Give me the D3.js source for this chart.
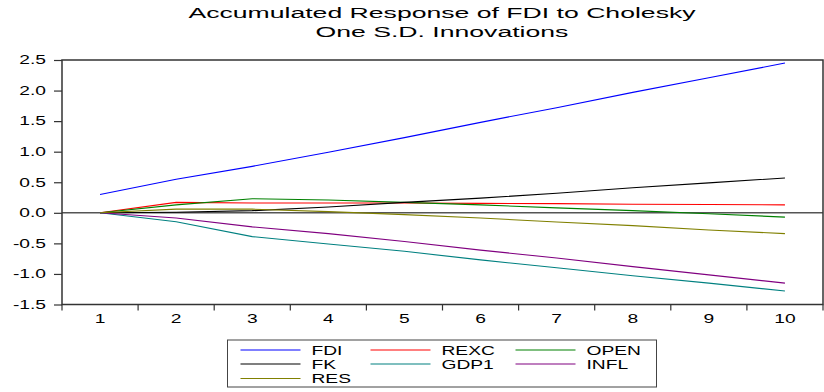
<!DOCTYPE html>
<html>
<head>
<meta charset="utf-8">
<script src="https://cdn.jsdelivr.net/npm/d3@7"></script>
<style>
  html, body { margin: 0; padding: 0; background: #fff; }
  svg { display: block; font-family: "Liberation Sans", Arial, sans-serif; }
</style>
</head>
<body>
<svg id="chart" width="824" height="392"></svg>
<script>
// Periods after the shock
const periods = [1, 2, 3, 4, 5, 6, 7, 8, 9, 10];

// Accumulated responses of FDI, one series per Cholesky shock
const fdi  = [0.30, 0.55, 0.76, 0.99, 1.23, 1.48, 1.72, 1.97, 2.21, 2.45];
const rexc = [0.00, 0.17, 0.16, 0.16, 0.16, 0.155, 0.15, 0.14, 0.135, 0.13];
const open = [0.00, 0.13, 0.23, 0.21, 0.17, 0.13, 0.08, 0.035, -0.015, -0.07];
const fk   = [0.00, 0.01, 0.035, 0.095, 0.17, 0.24, 0.32, 0.41, 0.49, 0.57];
const gdp1 = [0.00, -0.145, -0.39, -0.51, -0.63, -0.77, -0.90, -1.03, -1.15, -1.28];
const infl = [0.00, -0.085, -0.23, -0.34, -0.47, -0.61, -0.74, -0.88, -1.015, -1.15];
const res  = [0.00, 0.06, 0.06, 0.02, -0.03, -0.085, -0.15, -0.21, -0.28, -0.34];

const seriesNames = ["FDI", "REXC", "OPEN", "FK", "GDP1", "INFL", "RES"];
const seriesValues = [fdi, rexc, open, fk, gdp1, infl, res];
const seriesColors = ["#0000ff", "#ff0000", "#008000", "#000000", "#008080", "#800080", "#808000"];

const yTicks = [-1.5, -1.0, -0.5, 0.0, 0.5, 1.0, 1.5, 2.0, 2.5];
const titleLines = ["Accumulated Response of FDI to Cholesky", "One S.D. Innovations"];

const svg = d3.select("#chart");
const plot = { left: 62, top: 60, right: 823, bottom: 304.5 };

const x = d3.scaleBand().domain(periods).range([plot.left, plot.right]).padding(0);
const y = d3.scaleLinear().domain([-1.5, 2.5]).range([plot.bottom, plot.top]);

// Widen glyphs horizontally by a factor, keeping the anchor
function stretch(sel, factor) {
  sel.each(function () {
    const w = this.getComputedTextLength();
    d3.select(this).attr("textLength", w * factor).attr("lengthAdjust", "spacingAndGlyphs");
  });
}

// Title
svg.selectAll("text.title")
  .data(titleLines)
  .join("text")
  .attr("class", "title")
  .attr("x", 442)
  .attr("y", (d, i) => 18 + i * 18.5)
  .attr("text-anchor", "middle")
  .attr("font-size", 14)
  .attr("fill", "#000")
  .text(d => d)
  .call(stretch, 1.9);

// Zero reference line
svg.append("line")
  .attr("x1", plot.left).attr("x2", plot.right)
  .attr("y1", y(0)).attr("y2", y(0))
  .attr("stroke", "#555").attr("stroke-width", 1.5);

// Response lines
const line = d3.line()
  .x((d, i) => x(periods[i]) + x.bandwidth() / 2)
  .y(d => y(d));

svg.selectAll("path.resp")
  .data(seriesValues)
  .join("path")
  .attr("class", "resp")
  .attr("d", d => line(d))
  .attr("fill", "none")
  .attr("stroke", (d, i) => seriesColors[i])
  .attr("stroke-width", 1.1);

// Frame
svg.append("rect")
  .attr("x", plot.left).attr("y", plot.top)
  .attr("width", plot.right - plot.left).attr("height", plot.bottom - plot.top)
  .attr("fill", "none").attr("stroke", "#333").attr("stroke-width", 1.5);

// Y axis
const yAxis = d3.axisLeft(y).tickValues(yTicks).tickFormat(d3.format(".1f")).tickSize(8).tickPadding(8);
const gy = svg.append("g").attr("transform", `translate(${plot.left},0)`).call(yAxis);
gy.select(".domain").remove();
gy.selectAll(".tick line").attr("stroke", "#333").attr("stroke-width", 1.2);
gy.selectAll(".tick text")
  .attr("font-family", "Liberation Sans, Arial, sans-serif")
  .attr("font-size", 12).attr("fill", "#000")
  .text(d => d3.format(".1f")(d).replace("−", "-"))
  .call(stretch, 1.6);

// X axis: ticks on period boundaries, labels centred in each period
const gx = svg.append("g").attr("transform", `translate(0,${plot.bottom})`);
const bounds = periods.map(p => x(p)).concat([plot.right]);
gx.selectAll("line.xt")
  .data(bounds)
  .join("line")
  .attr("class", "xt")
  .attr("x1", d => d).attr("x2", d => d)
  .attr("y1", 0).attr("y2", 6)
  .attr("stroke", "#333").attr("stroke-width", 1.2);
gx.selectAll("text.xl")
  .data(periods)
  .join("text")
  .attr("class", "xl")
  .attr("x", d => x(d) + x.bandwidth() / 2)
  .attr("y", 18)
  .attr("text-anchor", "middle")
  .attr("font-size", 12)
  .attr("fill", "#000")
  .text(d => d)
  .call(stretch, 1.6);

// Legend
const legend = svg.append("g");
legend.append("rect")
  .attr("x", 227.5).attr("y", 340)
  .attr("width", 429).attr("height", 47)
  .attr("fill", "#fff").attr("stroke", "#444").attr("stroke-width", 1);

const colX = [240.5, 370.5, 515.5];
const rowY = [350, 364, 378.5];
const items = seriesNames.map((name, i) => ({ name, color: seriesColors[i], col: i % 3, row: Math.floor(i / 3) }));

const li = legend.selectAll("g.item").data(items).join("g").attr("class", "item");
li.append("line")
  .attr("x1", d => colX[d.col]).attr("x2", d => colX[d.col] + 60)
  .attr("y1", d => rowY[d.row]).attr("y2", d => rowY[d.row])
  .attr("stroke", d => d.color).attr("stroke-width", 1.1);
li.append("text")
  .attr("x", d => colX[d.col] + 71)
  .attr("y", d => rowY[d.row] + 4.5)
  .attr("font-size", 12)
  .attr("fill", "#000")
  .text(d => d.name)
  .call(stretch, 1.6);
</script>
</body>
</html>
